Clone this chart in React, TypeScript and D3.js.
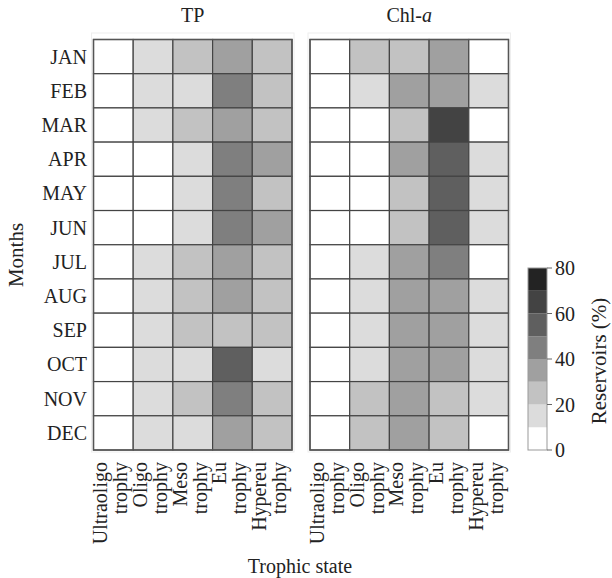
import React from 'react';
import * as d3 from 'd3';

const months = ['JAN', 'FEB', 'MAR', 'APR', 'MAY', 'JUN', 'JUL', 'AUG', 'SEP', 'OCT', 'NOV', 'DEC'];
const states = ['Ultraoligotrophy', 'Oligotrophy', 'Mesotrophy', 'Eutrophy', 'Hypereutrophy'];
const stateLines = [
  ['Ultraoligo', 'trophy'],
  ['Oligo', 'trophy'],
  ['Meso', 'trophy'],
  ['Eu', 'trophy'],
  ['Hypereu', 'trophy'],
];

// % of reservoirs in each trophic state, one row per month
const tpValues = [
  [2, 17, 25, 33, 23],
  [0, 18, 15, 45, 22],
  [3, 15, 22, 35, 25],
  [0, 5, 15, 45, 35],
  [0, 7, 18, 47, 28],
  [0, 3, 15, 47, 35],
  [3, 15, 25, 32, 25],
  [3, 15, 25, 32, 25],
  [3, 18, 27, 25, 27],
  [3, 17, 16, 52, 12],
  [2, 14, 22, 40, 22],
  [3, 17, 18, 35, 27],
];
const chlValues = [
  [3, 25, 28, 38, 6],
  [2, 15, 32, 35, 16],
  [2, 5, 25, 64, 4],
  [1, 4, 31, 52, 12],
  [2, 5, 25, 55, 13],
  [2, 5, 25, 55, 13],
  [3, 15, 35, 42, 5],
  [2, 15, 35, 35, 13],
  [2, 15, 35, 35, 13],
  [2, 15, 35, 35, 13],
  [3, 23, 35, 25, 14],
  [3, 25, 38, 27, 7],
];

const binEdges = [10, 20, 30, 40, 50, 60, 70];
const grays = ['#ffffff', '#dcdcdc', '#c2c2c2', '#a0a0a0', '#7f7f7f', '#5f5f5f', '#434343', '#232323'];
const legendTicks = [0, 20, 40, 60, 80];

const font = 'Liberation Serif, DejaVu Serif, serif';
const textColor = '#222';
const fs = 20;

const top = 39.5;
const bottom = 450;
const gridW = 198.5;

const color = d3.scaleThreshold<number, string>().domain(binEdges).range(grays);
const y = d3.scaleBand<string>().domain(months).range([top, bottom]);

function Panel({ x0, values, title }: { x0: number; values: number[][]; title: React.ReactNode }) {
  const x = d3.scaleBand<string>().domain(states).range([x0, x0 + gridW]);
  return (
    <g>
      <rect x={x0 - 2} y={33} width={gridW + 4} height={bottom - 33 + 2} fill="none" stroke="#eeeeee" />
      <text x={x0 + gridW / 2} y={22} textAnchor="middle" fontSize={fs} fill={textColor}>{title}</text>
      {months.map((m, i) =>
        states.map((s, j) => (
          <rect key={m + s} x={x(s)} y={y(m)} width={x.bandwidth()} height={y.bandwidth()}
            fill={color(values[i][j])} stroke="#444" strokeWidth={1.2} />
        ))
      )}
      <rect x={x0} y={top} width={gridW} height={bottom - top} fill="none" stroke="#555" strokeWidth={1.4} />
      {states.map((s, j) => {
        const c = (x(s) ?? 0) + x.bandwidth() / 2;
        return stateLines[j].map((line, k) => (
          <text key={s + k} transform={`translate(${c - 6 + k * 20},462) rotate(-90)`}
            textAnchor="end" fontSize={fs} fill={textColor}>{line}</text>
        ));
      })}
    </g>
  );
}

export default function App() {
  const legendY = d3.scaleLinear().domain([0, 80]).range([bottom, 268]);
  const bins = [0, ...binEdges, 80];
  return (
    <svg width={612} height={578} fontFamily={font} style={{ position: 'absolute', left: 0, top: 0 }}>
      <rect width={612} height={578} fill="#fff" />
      <Panel x0={93.5} values={tpValues} title="TP" />
      <Panel x0={310} values={chlValues} title={<>Chl-<tspan fontStyle="italic">a</tspan></>} />

      {months.map(m => (
        <text key={m} x={87} y={(y(m) ?? 0) + y.bandwidth() / 2} dy="0.35em" textAnchor="end"
          fontSize={fs} fill={textColor}>{m}</text>
      ))}

      <text transform="translate(23,255) rotate(-90)" textAnchor="middle" fontSize={fs + 1} fill={textColor}>Months</text>
      <text x={300} y={573} textAnchor="middle" fontSize={fs} fill={textColor}>Trophic state</text>

      {bins.slice(0, -1).map((b, i) => (
        <rect key={b} x={528} y={legendY(bins[i + 1])} width={19} height={legendY(b) - legendY(bins[i + 1])}
          fill={grays[i]} stroke="none" />
      ))}
      <rect x={528} y={legendY(80)} width={19} height={legendY(0) - legendY(80)} fill="none" stroke="#999" strokeWidth={1} />
      {legendTicks.map(t => (
        <g key={t}>
          <line x1={547} x2={552} y1={legendY(t)} y2={legendY(t)} stroke="#666" />
          <text x={555} y={legendY(t)} dy="0.35em" fontSize={fs} fill={textColor}>{t}</text>
        </g>
      ))}
      <text transform="translate(606,361) rotate(-90)" textAnchor="middle" fontSize={fs + 1} fill={textColor}>Reservoirs (%)</text>
    </svg>
  );
}
